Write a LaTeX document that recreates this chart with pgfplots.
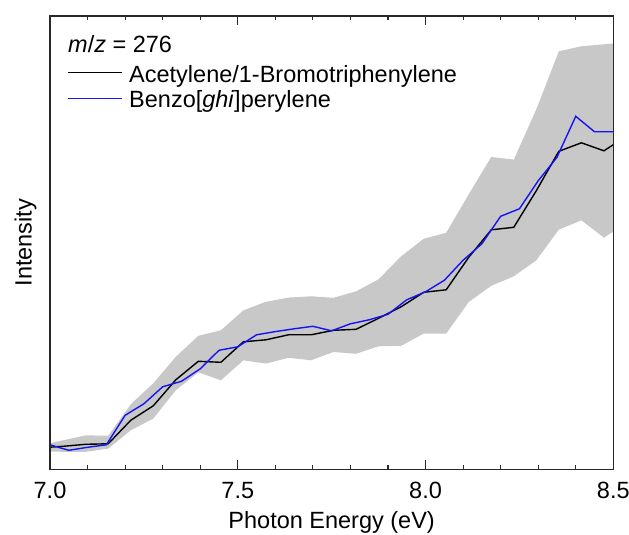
\documentclass[border=0pt]{standalone}
\usepackage{fontspec}
\setmainfont{Liberation Sans}
\usepackage{pgfplots}
\usepackage{pgfplotstable}
\pgfplotsset{compat=1.18}
\definecolor{bandgray}{RGB}{200,200,200}
\definecolor{lineblue}{RGB}{20,20,245}
\definecolor{axisgray}{RGB}{40,40,40}

% Acetylene/1-Bromotriphenylene: mean intensity
\pgfplotstableread{
x      y
6.975  21.5
7.035  23
7.095  25
7.155  25.5
7.215  49
7.275  63.5
7.335  89.5
7.395  108
7.455  107
7.515  127.5
7.575  129.5
7.635  134.5
7.695  134.5
7.755  139
7.815  140
7.875  151
7.935  162.5
7.995  177
8.055  179.5
8.115  212
8.175  239.5
8.235  242
8.295  278.6
8.355  318
8.415  326.5
8.475  318.5
8.535  333
}\acetylene

% grey band: upper envelope (left to right), then lower envelope (right to left)
\pgfplotstableread{
x      y
6.975  24
7.035  29
7.095  34
7.155  33.5
7.215  65
7.275  86
7.335  112.5
7.395  133.5
7.455  139
7.515  159
7.575  167.5
7.635  171.7
7.695  173
7.755  171.5
7.815  178
7.875  190
7.935  213
7.995  230.5
8.055  236.5
8.115  275
8.175  312.3
8.235  309.7
8.295  360
8.355  418
8.415  423
8.475  425
8.535  427
8.535  246
8.475  231.7
8.415  249
8.355  239.7
8.295  209
8.235  193
8.175  183.5
8.115  167.3
8.055  135.7
7.995  135.7
7.935  123.5
7.875  123
7.815  115.5
7.755  117.3
7.695  109
7.635  111.5
7.575  105.7
7.515  109
7.455  89
7.395  97
7.335  79
7.275  50.7
7.215  39
7.155  20.7
7.095  17.5
7.035  17.5
6.975  18
}\band

% Benzo[ghi]perylene
\pgfplotstableread{
x     y
7.00  24.5
7.05  19
7.10  22
7.15  24.5
7.20  54
7.25  65.5
7.30  82.5
7.35  88
7.40  100.5
7.45  119
7.50  122.5
7.55  134.5
7.60  137.7
7.65  140.5
7.70  143
7.75  138.5
7.80  145.5
7.85  149.5
7.90  155
7.95  169.5
8.00  177.5
8.05  189
8.10  209
8.15  225.5
8.20  253
8.25  260.5
8.30  288.5
8.35  312
8.40  353
8.45  337.5
8.50  337.5
}\benzo

\begin{document}
\begin{tikzpicture}[font=\fontsize{23.5pt}{28pt}\selectfont]
\path[use as bounding box] (0pt,0pt) rectangle (629pt,535pt);
\begin{axis}[
  at={(50pt,65.7pt)}, anchor=south west,
  scale only axis, width=563.3pt, height=453.3pt,
  xmin=7, xmax=8.5, ymin=0, ymax=453.3,
  xtick={7,7.5,8,8.5}, minor x tick num=4,
  ytick=\empty,
  tick align=inside, xtick pos=both,
  major tick length=9pt, minor tick length=4.5pt,
  axis line style={line width=1.2pt, axisgray},
  every tick/.append style={line width=1.1pt, axisgray},
  xticklabel style={anchor=base, yshift=-29.2pt,
    /pgf/number format/fixed, /pgf/number format/fixed zerofill,
    /pgf/number format/precision=1, /pgf/number format/assume math mode=true},
  xlabel={Photon Energy (eV)},
  xlabel style={at={(axis description cs:0.5,-0.1295)}, anchor=base},
  ylabel={Intensity},
  ylabel style={at={(axis description cs:-0.0325,0.5)}, anchor=base},
  legend style={at={(axis description cs:0.0307,0.9001)}, anchor=north west,
    draw=none, fill=none, inner sep=0pt,
    font=\fontsize{23.5pt}{28pt}\selectfont,
    nodes={inner xsep=0pt, inner ysep=3.5pt}},
  legend cell align=left,
  legend image code/.code={%
    \path[draw=none, fill=none] (0pt,0pt) -- (61pt,0pt);
    \draw[#1, line width=1.4pt] (0pt,1.5pt) -- (53.7pt,1.5pt);},
  axis on top,
]
\addplot[fill=bandgray, draw=none, forget plot] table[x=x, y=y] {\band} -- cycle;
\addplot[black, line width=1.4pt] table[x=x, y=y] {\acetylene};
\addlegendentry{Acetylene/1-Bromotriphenylene}
\addplot[lineblue, line width=1.4pt] table[x=x, y=y] {\benzo};
\addlegendentry{Benzo[\textit{ghi}]perylene}
\node[anchor=base west, inner sep=0pt] at (axis description cs:0.032,0.919) {\textit{m}/\textit{z} = 276};
\end{axis}
\end{tikzpicture}
\end{document}
